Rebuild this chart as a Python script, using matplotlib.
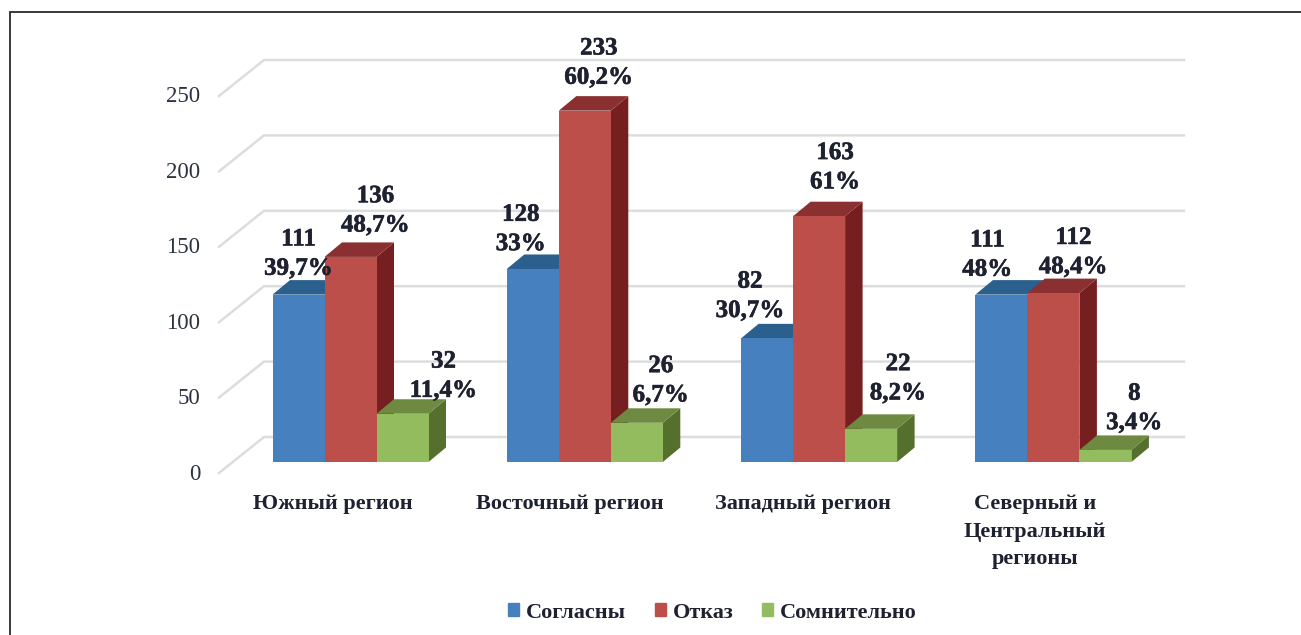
#!/usr/bin/env python3
# -*- coding: utf-8 -*-
"""Fake-3D grouped bars: agreement by region, saved to out.png"""

import matplotlib
matplotlib.use("Agg")
import matplotlib.pyplot as plt
import matplotlib.patheffects as pe
from matplotlib.patches import Rectangle

# Data
regions = ["Южный регион", "Восточный регион", "Западный регион",
           "Северный и\nЦентральный\nрегионы"]
series = ["Согласны", "Отказ", "Сомнительно"]
agree = [111, 128, 82, 111]
refuse = [136, 233, 163, 112]
doubt = [32, 26, 22, 8]
agree_pct = ["39,7%", "33%", "30,7%", "48%"]
refuse_pct = ["48,7%", "60,2%", "61%", "48,4%"]
doubt_pct = ["11,4%", "6,7%", "8,2%", "3,4%"]
y_ticks = [0, 50, 100, 150, 200, 250]

# Layout (pixels of the 1301x635 picture)
W, H = 1301, 635
BASE_Y = 462          # bar feet
PX_PER_VALUE = 1.508
GROUP_STEP = 234.3
GROUP0_X = 350.5      # centre of the first group
BAR_W = 52
BAR_DX, BAR_DY = 17.5, 14.5
WALL_X0, WALL_X1 = 264, 1184
WALL_DY = 25          # back wall zero above the bar feet
FLOOR_DX, FLOOR_DY = 45, 36

# front, top, side
COLORS = [("#4680bf", "#2b5f8e", "#2b5f8e"),
          ("#bd4f4b", "#8a3030", "#761f20"),
          ("#93bc5f", "#6d8a40", "#55702c")]

# label offsets from the bar's top centre, px (dx, up), one row per series
LABEL_OFF = [[(0, 41), (-12, 40), (-17, 42.5), (-14, 40)],
             [(25, 46.5), (14, 48), (16, 49), (20, 41)],
             [(41, 38), (24, 42.5), (27, 50.5), (29, 42)]]

SERIF = "Liberation Serif"
DARK = "#1e2230"
BOLDER = [pe.withStroke(linewidth=0.4, foreground=DARK)]

x_u = 1 / GROUP_STEP      # data units per px on x
y_u = 1 / PX_PER_VALUE    # data units per px on y

fig = plt.figure(figsize=(W / 100, H / 100), dpi=100, facecolor="white")
ax = fig.add_axes([0, 0, 1, 1])
ax.set_xlim(-GROUP0_X * x_u, (W - GROUP0_X) * x_u)
ax.set_ylim((BASE_Y - H) * y_u, BASE_Y * y_u)
ax.axis("off")

# picture frame, only left and top edges show
ax.plot([10 / W, 10 / W, 1], [0, 1 - 11.5 / H, 1 - 11.5 / H], transform=ax.transAxes,
        color="#2a2a2a", lw=1.3, solid_joinstyle="miter", zorder=1)

# wall + floor gridlines
x0, x1 = (WALL_X0 - GROUP0_X) * x_u, (WALL_X1 - GROUP0_X) * x_u
for v in y_ticks:
    yb = v + WALL_DY * y_u
    ax.plot([x0 - FLOOR_DX * x_u, x0, x1], [yb - FLOOR_DY * y_u, yb, yb],
            color="#dcdede", lw=1.8, solid_joinstyle="miter", zorder=1)
    ax.text(x0 - 64 * x_u, yb - (FLOOR_DY + 1) * y_u, str(v), family=SERIF,
            fontsize=16.5, color="#2c3340", ha="right", va="center", zorder=2)

bw = BAR_W * x_u
dx, dy = BAR_DX * x_u, BAR_DY * y_u
all_vals = [agree, refuse, doubt]
all_pct = [agree_pct, refuse_pct, doubt_pct]
for g in range(len(regions)):
    for s, vals in enumerate(all_vals):
        v = vals[g]
        left = g + (s - 1.5) * bw
        front, top, side = COLORS[s]
        ax.fill([left + bw, left + bw + dx, left + bw + dx, left + bw],
                [0, dy, v + dy, v], color=side, lw=0, zorder=3 + s)
        ax.fill([left, left + dx, left + bw + dx, left + bw],
                [v, v + dy, v + dy, v], color=top, lw=0, zorder=3 + s)
        ax.bar(left, v, width=bw, align="edge", color=front, lw=0, zorder=3 + s)

for g in range(len(regions)):
    for s, vals in enumerate(all_vals):
        ox, oy = LABEL_OFF[s][g]
        ax.annotate(f"{vals[g]}\n{all_pct[s][g]}",
                    xy=(g + (s - 1) * bw, vals[g]), xytext=(ox, oy),
                    textcoords="offset pixels", ha="center", va="center",
                    family=SERIF, weight="bold", fontsize=18, color=DARK,
                    linespacing=1.35, zorder=10, path_effects=BOLDER)

# category labels, centred by hand under each group
cat_x = [333, 570, 803, 1035]
for g, name in enumerate(regions):
    ax.text((cat_x[g] - GROUP0_X) * x_u, (BASE_Y - 494) * y_u, name, family=SERIF,
            weight="bold", fontsize=16, color=DARK, ha="center", va="top",
            linespacing=1.5, zorder=10)

# legend
handles = [Rectangle((0, 0), 1, 1, color=c[0]) for c in COLORS]
fig.legend(handles, series, loc="center", bbox_to_anchor=(712.5 / W, 1 - 612.5 / H),
           ncol=3, frameon=False, handlelength=0.5, handleheight=0.55,
           handletextpad=0.3, columnspacing=1.3,
           prop={"family": SERIF, "weight": "bold", "size": 16},
           labelcolor=DARK)

fig.savefig("out.png", dpi=100)
